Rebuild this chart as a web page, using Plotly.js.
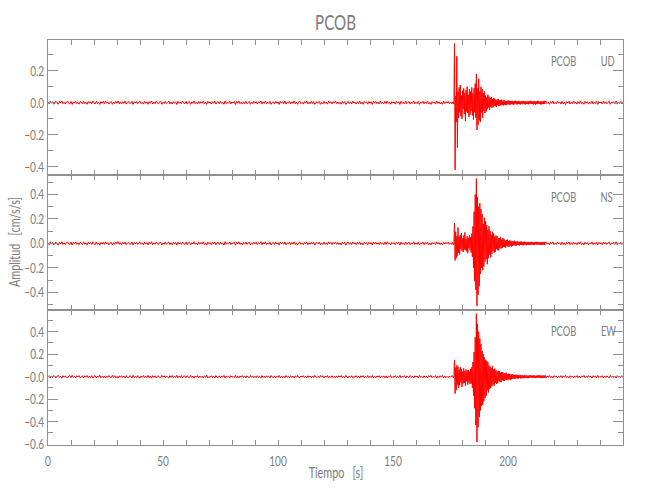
<!DOCTYPE html>
<html>
<head>
<meta charset="utf-8">
<script src="https://cdn.plot.ly/plotly-3.0.1.min.js"></script>
<style>html,body{margin:0;padding:0;background:#fff;}#chart{width:650px;height:500px;}</style>
</head>
<body>
<div id="chart"></div>
<script>
// ---- Data (amplitudes in units of 0.001 cm/s/s) ----
const AMP_UNIT = 0.001;
const stationName = "PCOB";
const componentNames = ["UD", "NS", "EW"];

// sampling of the three record segments (s)
const preStart = 0,       preStep = 0.5;
const eventStart = 176,   eventStep = 0.25;
const postStart = 216.5,  postStep = 0.5;

const udPre = [4,-7,9,-3,6,-10,2,8,-5,-9,7,-2,11,-6,3,-8,
5,10,-4,-7,8,-11,6,-3,9,-6,2,-9,7,4,-8,10,
-5,3,-10,8,-4,6,-7,11,-2,-8,9,-5,3,-11,7,-4,
8,-6,10,-3,5,-9,2,7,-10,4,-6,9,-3,11,-7,5,
-8,6,-4,10,-9,3,7,-5,-2,9,-11,6,-3,8,-7,4,
10,-6,2,-9,8,-4,5,-10,7,-3,11,-8,4,-6,9,-2,
-7,5,8,-10,3,-5,9,-6,2,10,-8,4,-9,7,-3,6,
-11,8,-4,5,-7,10,-2,-6,9,-8,3,7,-10,5,-4,11,
-6,2,-9,8,-5,6,-3,10,-7,4,-11,9,-2,5,-8,7,
-4,10,-9,3,6,-7,8,-5,2,-10,11,-6,4,-3,9,-8,
5,-2,7,-11,8,-4,10,-6,3,-9,6,-5,9,-7,2,8,
-10,4,-6,9,-3,7,-8,5,-2,11,-9,6,-4,10,-7,3,
-5,8,-10,2,6,-7,9,-4,5,-11,8,-3,7,-6,10,-9,
4,-2,9,-8,6,-5,11,-7,3,-10,5,8,-6,2,-9,7,
-3,10,-8,4,-6,9,-5,7,-11,3,6,-4,8,-10,2,-7,
9,-5,4,-9,11,-3,6,-8,7,-2,10,-6,5,-7,3,-10,
8,-4,7,-11,2,9,-6,5,-8,10,-3,4,-9,6,-5,11,
-7,3,-10,8,-2,5,-9,7,-4,6,-11,9,-3,8,-6,4,
-8,10,-5,2,-7,9,-6,11,-4,3,-10,7,-2,5,-9,8,
-3,6,-11,9,-5,4,-8,10,-6,2,7,-9,5,-4,11,-7,
3,-6,8,-10,4,-2,9,-7,6,-5,10,-8,2,-11,7,-3,
5,-9,11,-4,6,-8,3,-10,9,-5,7,-2,8,-6,4,-7];
const udEvent = [6,-9,8,370,-420,40,-120,290,-280,70,-95,
95,-60,110,-85,45,-100,75,-40,90,-70,60,-115,80,-55,100,-65,50,-90,85,-75,70,-50,95,-80,60,-105,90,-60,120,-95,
180,-170,90,-140,150,-110,70,-120,100,-60,85,-95,60,-50,70,-65,
45,-55,35,-40,50,-30,38,-45,30,-25,35,-32,22,-28,30,-20,25,-22,18,-26,20,-15,23,-19,
16,-20,14,-12,18,-15,12,-17,15,-11,13,-16,10,-14,12,-9,14,-12,9,-13,11,-8,12,-10,
9,-13,11,-7,12,-10,8,-11,10,-8,12,-9,7,-11,10,-6,9,-10,11,-7,8,-12,10,-8,
6,-9,11,-10,8,-7,12,-9,10,-8,7,-11,9,-6,10,-12,8,-9,11,-7,10,-8,6,-10,
9,-11,8,-7,10,-9,12,-8,7];
const udPost = [9,-5,3,-10,7,-4,11,-8,2,-6,10,-3,5,-9,8,-7,4,-11,6,-2,9,-8,5,-6,10,-4,3,-9,7,-5,11,-7,2,-10,8,-3,6,-9,4,-5,10,-8,3,-6,9,-11,7,-2,5,-8,10,-4,6,-7,2,9,-10,5,-3,8,-6,11,-9,4,-5,7,-8,6];

const nsPre = [6,-11,13,-4,8,-12,3,10,-7,-13,9,-5,14,-8,4,-10,
7,12,-5,-9,11,-14,8,-3,12,-7,5,-11,9,2,-10,13,
-6,4,-12,10,-5,8,-9,13,-3,-11,12,-7,4,-14,9,-6,
10,-8,13,-4,7,-12,3,9,-13,5,-8,11,-2,14,-9,6,
-10,8,-5,12,-11,4,9,-7,-3,12,-14,8,-4,10,-9,5,
13,-8,3,-12,10,-6,7,-13,9,-4,14,-10,5,-7,11,-3,
-9,6,10,-13,4,-7,12,-8,3,13,-10,5,-12,9,-4,8,
-14,10,-5,7,-9,12,-3,-8,11,-10,4,9,-13,6,-5,14,
-8,3,-11,10,-6,8,-4,13,-9,5,-14,11,-3,7,-10,9,
-5,12,-11,4,8,-9,10,-6,3,-13,14,-8,5,-4,11,-10,
6,-3,9,-14,10,-5,13,-8,4,-11,7,-6,12,-9,3,10,
-12,5,-8,11,-4,9,-10,6,-3,14,-11,8,-5,13,-9,4,
-7,10,-12,3,8,-9,11,-5,6,-14,10,-4,9,-8,12,-11,
5,-3,11,-10,7,-6,13,-9,4,-12,6,10,-8,3,-11,9,
-4,12,-10,5,-8,11,-6,9,-14,4,8,-5,10,-12,3,-9,
11,-7,5,-11,13,-4,8,-10,9,-3,12,-8,6,-9,4,-13,
10,-5,9,-14,3,11,-8,6,-10,12,-4,5,-11,8,-6,13,
-9,4,-12,10,-3,7,-11,9,-5,8,-13,11,-4,10,-7,5,
-10,12,-6,3,-9,11,-8,14,-5,4,-12,9,-3,6,-11,10,
-4,8,-13,11,-6,5,-10,12,-8,3,9,-11,6,-5,13,-9,
4,-8,10,-12,5,-3,11,-9,8,-6,12,-10,3,-13,9,-4,
6,-11,13,-5,8,-10,4,-12,11,-6,9,-3,10,-8,5,-9];
const nsEvent = [9,-11,7,165,-140,95,-120,60,-100,130,-75,
55,-90,70,-45,85,-60,40,-70,65,-50,90,-55,35,-65,60,-80,45,-40,70,-55,50,-75,
80,-110,140,-200,260,-310,400,-380,530,-510,380,-420,300,-350,330,-250,280,-200,240,-220,160,-190,210,
-150,180,-130,150,-170,110,-120,140,-90,100,-115,70,-85,95,-60,80,-75,55,-70,65,-45,60,-55,40,-58,
45,-35,50,-42,30,-38,44,-28,36,-30,25,-34,28,-22,31,-26,20,-27,24,-18,22,-25,17,-21,
19,-15,22,-17,14,-20,16,-13,18,-14,12,-17,15,-11,16,-13,10,-15,13,-12,14,-9,12,-14,
11,-10,13,-12,9,-14,12,-10,13,-11,9,-12,10,-13,11,-8,12,-10,13,-9,11,-12,8,-11,
10,-13,12,-9,11,-10,13,-12,9];
const nsPost = [11,-6,4,-12,9,-5,13,-10,3,-8,12,-4,6,-11,10,-9,5,-13,8,-3,11,-10,6,-8,12,-5,4,-11,9,-6,13,-9,3,-12,10,-4,8,-11,5,-6,12,-10,4,-8,11,-13,9,-3,6,-10,12,-5,8,-9,3,11,-12,6,-4,10,-8,13,-11,5,-6,9,-10,7];

const ewPre = [-5,9,-12,4,-8,11,-3,-10,7,12,-6,3,-13,9,-4,8,
-7,-11,5,10,-9,13,-6,4,-11,8,-3,10,-8,-2,9,-12,
6,-4,11,-9,5,-7,10,-12,3,9,-11,6,-5,13,-8,4,
-9,7,-12,5,-6,11,-4,-8,12,-6,9,-10,3,-13,8,-5,
9,-7,6,-11,10,-5,-8,8,4,-11,13,-7,5,-9,10,-6,
-12,7,-4,11,-9,5,-8,12,-10,6,-13,9,-6,8,-10,4,
8,-5,-9,12,-3,8,-11,7,-4,-12,9,-6,11,-8,5,-7,
13,-9,6,-8,10,-11,4,7,-10,9,-5,-8,12,-7,6,-13,
7,-4,10,-9,6,-7,5,-12,8,-6,13,-10,3,-6,9,-8,
6,-11,10,-4,-7,8,-9,6,-3,11,-12,7,-5,4,-10,9,
-6,3,-8,12,-9,5,-11,7,-4,10,-7,6,-10,8,-3,-9,
11,-5,7,-10,4,-8,9,-6,3,-12,10,-7,5,-11,8,-4,
6,-9,11,-3,-7,8,-10,5,-6,12,-9,4,-8,7,-11,10,
-5,3,-10,9,-7,6,-12,8,-4,11,-6,-9,7,-3,10,-8,
4,-11,9,-5,7,-10,6,-8,12,-4,-7,5,-9,11,-3,8,
-10,6,-5,10,-12,4,-7,9,-8,3,-11,7,-6,8,-4,11,
-9,5,-8,12,-3,-10,7,-6,9,-11,4,-5,10,-7,6,-12,
8,-4,11,-9,3,-6,10,-8,5,-7,12,-10,4,-9,7,-5,
9,-11,6,-3,8,-10,7,-12,5,-4,11,-8,3,-6,10,-9,
4,-7,12,-10,6,-5,9,-11,7,-3,-8,10,-6,5,-12,8,
-4,7,-9,11,-5,3,-10,8,-7,6,-11,9,-3,12,-8,4,
-6,10,-12,5,-7,9,-4,11,-10,6,-8,3,-9,7,-5,8];
const ewEvent = [7,-10,9,150,-150,80,-120,100,-70,90,-100,
60,-75,85,-50,70,-90,45,-60,75,-55,50,-80,65,-40,55,-70,60,-50,45,-65,70,-60,
85,-100,130,-170,220,-280,350,-430,560,-580,470,-450,400,-360,340,-300,290,-260,230,-250,200,-220,170,
-190,150,-170,140,-120,130,-140,100,-110,90,-100,75,-85,95,-70,65,-80,70,-55,60,-65,45,-58,52,-40,
48,-45,35,-50,40,-32,42,-36,30,-38,33,-26,35,-29,24,-31,27,-22,25,-28,19,-24,22,-18,
21,-17,15,-20,18,-14,17,-16,13,-17,15,-12,16,-14,11,-15,14,-12,10,-14,13,-11,12,-10,
11,-13,9,-12,12,-10,13,-9,10,-12,11,-9,13,-11,10,-12,9,-11,12,-10,11,-9,12,-11,
10,-12,9,-11,12,-10,11,-9,10];
const ewPost = [-10,6,-4,11,-8,5,-12,9,-3,7,-11,4,-6,10,-9,8,-5,12,-7,3,-10,9,-6,7,-11,5,-4,10,-8,6,-12,8,-3,11,-9,4,-7,10,-5,6,-11,9,-4,7,-10,12,-8,3,-6,9,-11,5,-7,8,-3,-10,11,-6,4,-9,7,-12,10,-5,6,-8,9,-7];

// axis tick labels
const xTickVals = [0, 50, 100, 150, 200];
const xTickText = ["0", "50", "100", "150", "200"];
const udTickVals = [-0.4, -0.2, 0, 0.2];
const udTickText = ["\u22120.4", "\u22120.2", "0.0", "0.2"];
const nsTickVals = [-0.4, -0.2, 0, 0.2, 0.4];
const nsTickText = ["\u22120.4", "\u22120.2", "0.0", "0.2", "0.4"];
const ewTickVals = [-0.6, -0.4, -0.2, 0, 0.2, 0.4];
const ewTickText = ["\u22120.6", "\u22120.4", "\u22120.2", "\u22120.0", "0.2", "0.4"];

// ---- build traces ----
function segment(start, step, vals, tArr, yArr) {
  for (let i = 0; i < vals.length; i++) {
    tArr.push(start + i * step);
    yArr.push(vals[i] * AMP_UNIT);
  }
}
function record(pre, ev, post) {
  const t = [], y = [];
  segment(preStart, preStep, pre, t, y);
  segment(eventStart, eventStep, ev, t, y);
  segment(postStart, postStep, post, t, y);
  return {t, y};
}
const recs = [record(udPre, udEvent, udPost), record(nsPre, nsEvent, nsPost), record(ewPre, ewEvent, ewPost)];
const axesFor = [["x3", "y3"], ["x2", "y2"], ["x", "y"]];
const traces = recs.map((r, k) => ({
  type: "scatter", mode: "lines", x: r.t, y: r.y,
  xaxis: axesFor[k][0], yaxis: axesFor[k][1],
  line: {color: "#ff0000", width: 1, simplify: false},
  hoverinfo: "skip"
}));

const FONT = "Lato, 'Liberation Sans', sans-serif";
const GREY = "#7c7c7c";
const LINE = "#909090";
const TXT = {family: FONT, size: 14, color: GREY, weight: 400};

function xAx(anchor, labels) {
  return {
    anchor: anchor, domain: [0, 1], range: [0, 250],
    tickmode: "array", tickvals: xTickVals, ticktext: xTickText,
    showticklabels: labels, ticklabelstandoff: 3,
    ticks: "inside", ticklen: 5, tickwidth: 1, tickcolor: LINE,
    minor: {tickmode: "linear", tick0: 0, dtick: 10, ticks: "inside", ticklen: 5, tickcolor: LINE, showgrid: false},
    showline: true, linecolor: LINE, linewidth: 1, mirror: "ticks",
    showgrid: false, zeroline: false,
    tickfont: TXT
  };
}
function yAx(anchor, domain, range, tv, tt) {
  return {
    anchor: anchor, domain: domain, range: range,
    tickmode: "array", tickvals: tv, ticktext: tt,
    ticks: "inside", ticklen: 10, tickwidth: 1, tickcolor: LINE,
    minor: {tickmode: "linear", tick0: 0, dtick: 0.1, ticks: "inside", ticklen: 5, tickcolor: LINE, showgrid: false},
    showline: true, linecolor: LINE, linewidth: 1, mirror: "ticks",
    showgrid: false, zeroline: false,
    tickfont: TXT
  };
}

function px2x(px) { return (px - 48) / 575; }
function py2y(py) { return (445 - py) / 405; }

const labelY = [61, 196.5, 331];
const annotations = [];
componentNames.forEach((c, k) => {
  annotations.push({xref: "paper", yref: "paper", x: px2x(583), y: py2y(labelY[k]), xanchor: "right", yanchor: "middle",
    text: stationName, showarrow: false, font: {family: FONT, size: 13, color: GREY, weight: 400}});
  annotations.push({xref: "paper", yref: "paper", x: px2x(596), y: py2y(labelY[k]), xanchor: "left", yanchor: "middle",
    text: c, showarrow: false, font: {family: FONT, size: 13, color: GREY, weight: 400}});
});
annotations.push({xref: "paper", yref: "paper", x: px2x(13), y: py2y(242.5), xanchor: "center", yanchor: "middle",
  textangle: -90, text: "Amplitud&nbsp;&nbsp;&nbsp;[cm/s/s]", showarrow: false, font: {family: FONT, size: 15, color: GREY, weight: 400}});
annotations.push({xref: "paper", yref: "paper", x: 0.5, y: py2y(472), xanchor: "center", yanchor: "middle",
  text: "Tiempo&nbsp;&nbsp;&nbsp;[s]", showarrow: false, font: {family: FONT, size: 15, color: GREY, weight: 400}});

const layout = {
  width: 650, height: 500,
  margin: {l: 48, r: 27, t: 40, b: 55, pad: 0},
  paper_bgcolor: "#ffffff", plot_bgcolor: "#ffffff",
  showlegend: false,
  title: {text: stationName, x: 0.5, xref: "paper", y: 1 - 22.5 / 500, yref: "container", xanchor: "center", yanchor: "middle",
    font: {family: FONT, size: 21, color: GREY, weight: 400}},
  xaxis: xAx("y", true),
  xaxis2: Object.assign(xAx("y2", false), {matches: "x"}),
  xaxis3: Object.assign(xAx("y3", false), {matches: "x"}),
  yaxis: yAx("x", [0, 1/3], [-0.607, 0.593], ewTickVals, ewTickText),
  yaxis2: yAx("x2", [1/3, 2/3], [-0.545, 0.56], nsTickVals, nsTickText),
  yaxis3: yAx("x3", [2/3, 1], [-0.452, 0.392], udTickVals, udTickText),
  annotations: annotations
};

// narrow the text horizontally to imitate the condensed plotter font of the original
const NARROW = 0.72;
Plotly.newPlot("chart", traces, layout, {staticPlot: true, displayModeBar: false}).then(gd => {
  gd.querySelectorAll("svg text").forEach(t => {
    const len = t.getComputedTextLength();
    if (len > 0) {
      t.setAttribute("textLength", (len * NARROW).toFixed(2));
      t.setAttribute("lengthAdjust", "spacingAndGlyphs");
    }
  });
});
</script>
</body>
</html>
